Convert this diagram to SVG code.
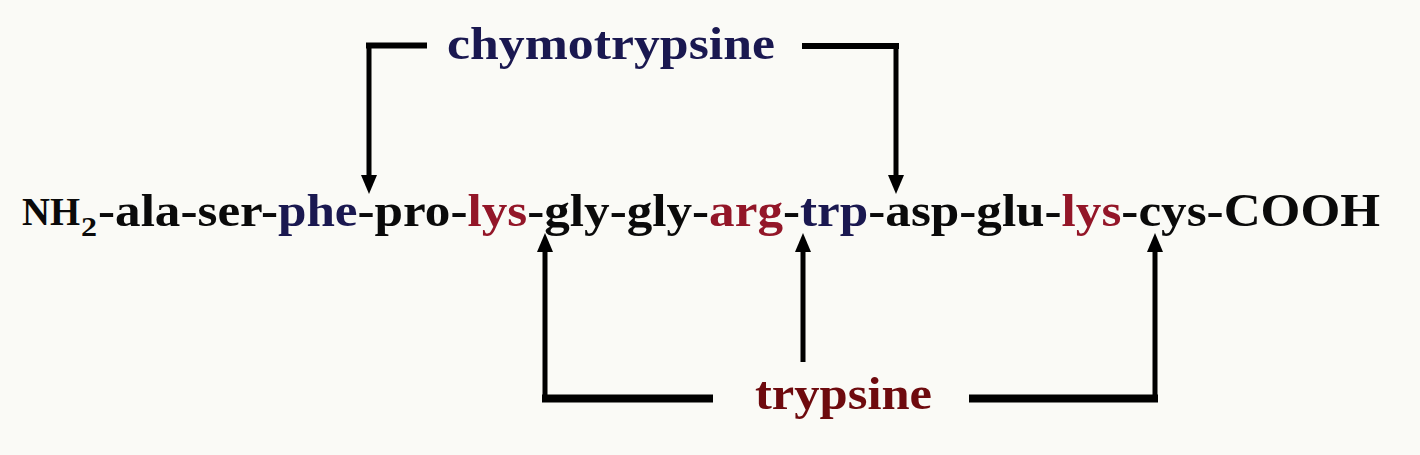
<svg xmlns="http://www.w3.org/2000/svg" width="1420" height="455" viewBox="0 0 1420 455">
<style>
.t{font-family:"Liberation Serif","Times New Roman",serif;font-weight:bold}
.navy{fill:#1a1850}
.red{fill:#931628}
.blk{fill:#0a0a0a}
.v{stroke:#000;stroke-width:5;fill:none}
.h{stroke:#000;fill:none}
</style>
<defs>
<marker id="ah" markerUnits="userSpaceOnUse" markerWidth="20" markerHeight="17" refX="0" refY="8" orient="auto" viewBox="0 0 20 16">
<path d="M0,0 L19,8 L0,16 z" fill="#000"/>
</marker>
</defs>
<rect width="1420" height="455" fill="#fafaf6"/>
<g id="connectors">
<line class="h" x1="366" y1="45.5" x2="427" y2="45.5" stroke-width="6"/>
<path class="v" d="M369,43 V175" marker-end="url(#ah)"/>
<line class="h" x1="802" y1="46" x2="899" y2="46" stroke-width="6"/>
<path class="v" d="M896,43 V175" marker-end="url(#ah)"/>
<line class="h" x1="542" y1="398.5" x2="713" y2="398.5" stroke-width="8"/>
<path class="v" d="M545,402 V252" marker-end="url(#ah)"/>
<path class="v" d="M803,362 V252" marker-end="url(#ah)"/>
<line class="h" x1="969" y1="398.5" x2="1158" y2="398.5" stroke-width="8"/>
<path class="v" d="M1155,402 V252" marker-end="url(#ah)"/>
</g>
<g id="chymotrypsine">
<text class="t navy" x="447" y="59" font-size="47" textLength="328" lengthAdjust="spacingAndGlyphs">chymotrypsine</text>
</g>
<g id="trypsine">
<text class="t" x="755" y="409" font-size="47" fill="#6e0a0e" textLength="177" lengthAdjust="spacingAndGlyphs">trypsine</text>
</g>
<g id="sequence">
<text class="t blk" x="22" y="225" font-size="41" textLength="58" lengthAdjust="spacingAndGlyphs">NH</text>
<text class="t blk" x="81" y="236" font-size="27" textLength="16" lengthAdjust="spacingAndGlyphs">2</text>
<text class="t blk" x="98" y="226" font-size="46" textLength="1282" lengthAdjust="spacingAndGlyphs">-ala-ser-<tspan class="navy">phe</tspan>-pro-<tspan class="red">lys</tspan>-gly-gly-<tspan class="red">arg</tspan>-<tspan class="navy">trp</tspan>-asp-glu-<tspan class="red">lys</tspan>-cys-COOH</text>
</g>
</svg>
